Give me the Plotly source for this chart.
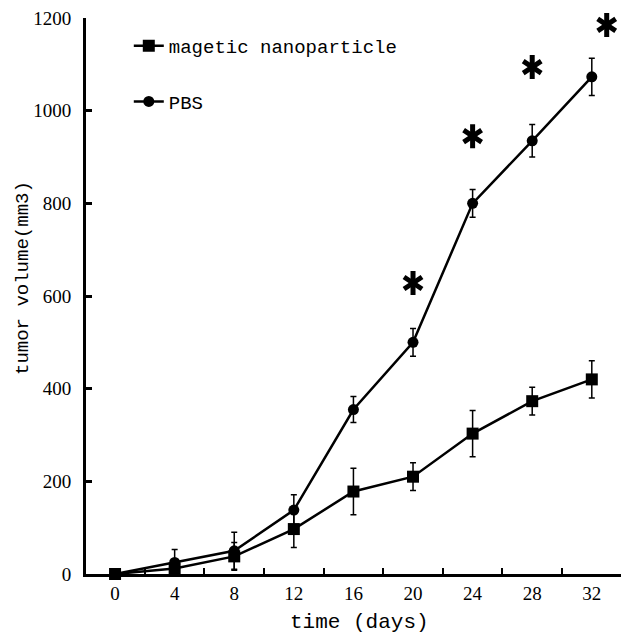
import plotly.graph_objects as go

days = [0, 4, 8, 12, 16, 20, 24, 28, 32]
mag_vals = [0, 12, 38, 97, 178, 210, 303, 373, 420]
mag_err = [0, 8, 30, 40, 50, 30, 50, 30, 40]
pbs_vals = [0, 25, 50, 138, 355, 500, 800, 935, 1073]
pbs_err = [0, 28, 40, 33, 28, 30, 30, 35, 40]
star_days = [20, 24, 28, 33]
star_y = [628, 945, 1094, 1185]
xtick_vals = [0, 4, 8, 12, 16, 20, 24, 28, 32]
ytick_vals = [0, 200, 400, 600, 800, 1000, 1200]

W, H = 621, 637
L, R, T, B = 86, 0, 18, 63

mono = "Liberation Mono"
serif = "Liberation Serif"

fig = go.Figure()
fig.add_trace(go.Scatter(
    x=days, y=mag_vals, name="magetic nanoparticle", mode="lines+markers",
    line=dict(color="black", width=2.5),
    marker=dict(symbol="square", size=12, color="black"),
    error_y=dict(type="data", array=mag_err, color="black", thickness=1.5, width=3),
    legendgroup="a", cliponaxis=False))
fig.add_trace(go.Scatter(
    x=days, y=pbs_vals, name="PBS", mode="lines+markers",
    line=dict(color="black", width=2.5),
    marker=dict(symbol="circle", size=11, color="black"),
    error_y=dict(type="data", array=pbs_err, color="black", thickness=1.5, width=3),
    legendgroup="b", cliponaxis=False))
for sym in ["y-up-open", "y-down-open"]:
    fig.add_trace(go.Scatter(
        x=star_days, y=star_y, mode="markers", showlegend=False, hoverinfo="skip",
        marker=dict(symbol=sym, size=15, color="black", line=dict(color="black", width=5)),
        cliponaxis=False))

fig.update_layout(
    width=W, height=H, margin=dict(l=L, r=R, t=T, b=B),
    plot_bgcolor="white", paper_bgcolor="white",
    showlegend=True,
    legend=dict(x=0.08, y=0.984, xanchor="left", yanchor="top",
                font=dict(family=mono, size=19, color="black"),
                bgcolor="rgba(0,0,0,0)", tracegroupgap=28, itemwidth=30),
    xaxis=dict(range=[-1.95, 33.96], showgrid=False, zeroline=False,
               showline=True, linecolor="black", linewidth=3,
               tickvals=xtick_vals, ticktext=[str(v) for v in xtick_vals],
               ticks="", tickfont=dict(family=serif, size=19, color="black"),
               minor=dict(tick0=2, dtick=4, ticks="inside", ticklen=6, tickwidth=2,
                          tickcolor="black", showgrid=False)),
    yaxis=dict(range=[0, 1200], showgrid=False, zeroline=False,
               showline=True, linecolor="black", linewidth=3,
               tickvals=ytick_vals, ticks="inside", ticklen=6, tickwidth=2.5,
               tickcolor="black", ticklabelstandoff=8,
               tickfont=dict(family=serif, size=19, color="black")),
)
fig.add_annotation(text="time (days)", xref="paper", yref="paper",
                   x=(359 - L) / (W - L - R), y=-(623 - (H - B)) / (H - T - B),
                   showarrow=False, xanchor="center", yanchor="middle",
                   font=dict(family=mono, size=21, color="black"))
fig.add_annotation(text="tumor volume(mm3)", xref="paper", yref="paper",
                   x=-(L - 23) / (W - L - R), y=(H - B - 278) / (H - T - B),
                   showarrow=False, xanchor="center", yanchor="middle", textangle=-90,
                   font=dict(family=mono, size=19, color="black"))
fig.write_html("out.html")
